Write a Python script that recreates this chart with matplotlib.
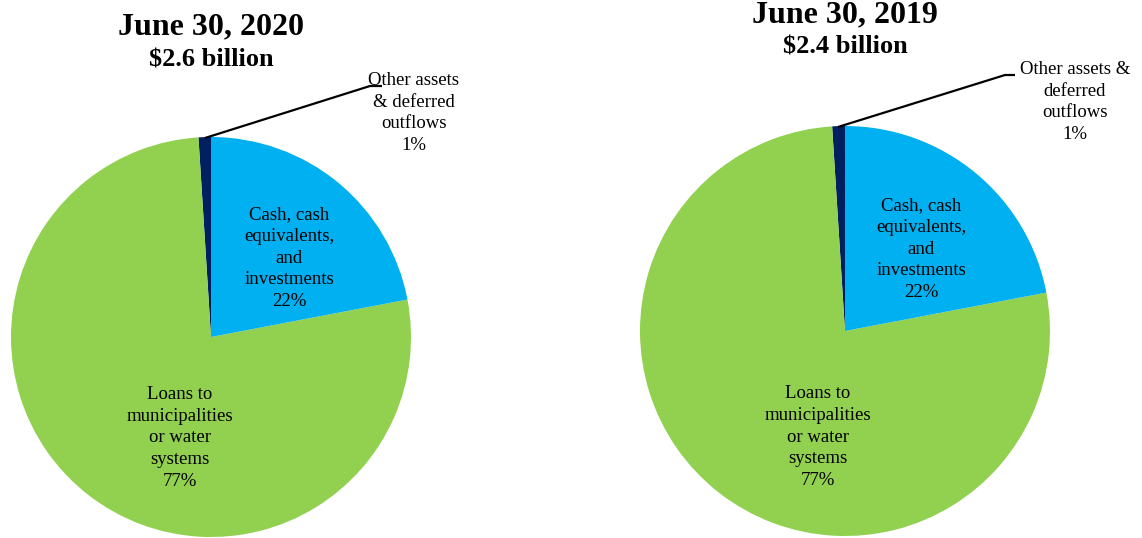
import matplotlib.pyplot as plt

# slice order: counter-clockwise from 12 o'clock
labels = ['Other assets & deferred outflows', 'Loans to municipalities or water systems',
          'Cash, cash equivalents, and investments']
shares_2020 = [1, 77, 22]
shares_2019 = [1, 77, 22]
totals = ['$2.6 billion', '$2.4 billion']
years = ['June 30, 2020', 'June 30, 2019']
colors = ['#002060', '#92D050', '#00B0F0']

W, H = 1142, 538
plt.rcParams['font.family'] = ['Liberation Serif', 'DejaVu Serif']
fig = plt.figure(figsize=(W / 100, H / 100), dpi=100)


def pie_axes(cx, cy, r):
    # pixel centre/radius -> axes rectangle in figure fraction
    ax = fig.add_axes([(cx - r) / W, (H - cy - r) / H, 2 * r / W, 2 * r / H])
    ax.axis('off')
    return ax


def pos(cx, cy, r, x, y):
    return (x - cx) / r, (cy - y) / r


panels = [
    dict(c=(211, 337, 200), shares=shares_2020, title=years[0], total=totals[0],
         title_y=(27, 60), cash=(289, 258), loans=(180, 438), other=(414, 113),
         other_txt='Other assets\n& deferred\noutflows\n1%',
         leader=[(205, 138), (370, 86), (382, 86)]),
    dict(c=(845, 331, 205), shares=shares_2019, title=years[1], total=totals[1],
         title_y=(15, 47), cash=(921, 249), loans=(818, 437), other=(1075, 102),
         other_txt='Other assets &\ndeferred\noutflows\n1%',
         leader=[(838, 127), (1005, 75), (1015, 75)]),
]

for p in panels:
    cx, cy, r = p['c']
    ax = pie_axes(cx, cy, r)
    ax.pie(p['shares'], colors=colors, startangle=90, counterclock=True, radius=1,
           wedgeprops=dict(linewidth=0))
    ax.set_xlim(-1, 1)
    ax.set_ylim(-1, 1)
    ax.set_aspect('auto')

    tx, ty = pos(cx, cy, r, cx, p['title_y'][0])
    ax.text(tx, ty, p['title'], ha='center', va='center', fontsize=23,
            fontweight='bold', clip_on=False)
    tx, ty = pos(cx, cy, r, cx, p['title_y'][1])
    ax.text(tx, ty, p['total'], ha='center', va='center', fontsize=19,
            fontweight='bold', clip_on=False)

    tx, ty = pos(cx, cy, r, *p['cash'])
    ax.text(tx, ty, 'Cash, cash\nequivalents,\nand\ninvestments\n%d%%' % p['shares'][2],
            ha='center', va='center', fontsize=13.5, linespacing=1.37)
    tx, ty = pos(cx, cy, r, *p['loans'])
    ax.text(tx, ty, 'Loans to\nmunicipalities\nor water\nsystems\n%d%%' % p['shares'][1],
            ha='center', va='center', fontsize=13.5, linespacing=1.37)
    tx, ty = pos(cx, cy, r, *p['other'])
    ax.text(tx, ty, p['other_txt'], ha='center', va='center', fontsize=13.5,
            linespacing=1.37, clip_on=False)

    lx, ly = zip(*[pos(cx, cy, r, x, y) for x, y in p['leader']])
    ax.plot(lx, ly, color='black', linewidth=1.6, clip_on=False,
            solid_capstyle='butt')

fig.savefig('out.png', dpi=100)
